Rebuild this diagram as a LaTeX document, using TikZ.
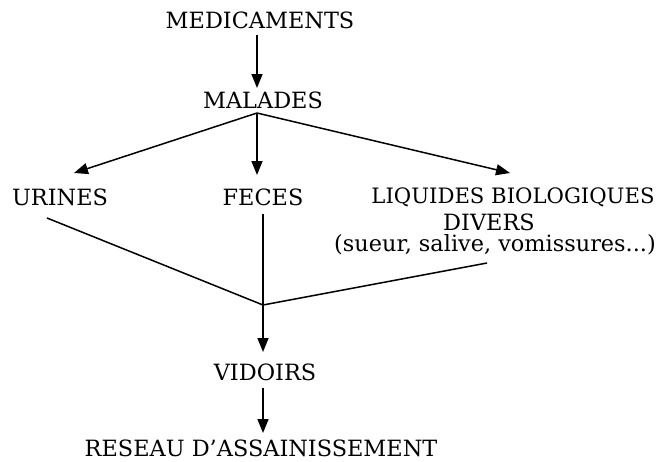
\documentclass[tikz,border=0pt]{standalone}
\usepackage{fontspec}
\setmainfont{DejaVu Serif}
\usetikzlibrary{arrows.meta}
\begin{document}
\begin{tikzpicture}[x=1pt,y=-1pt,
  lbl/.style={inner sep=0pt,font=\fontsize{22.4}{25}\selectfont},
  lblnarrow/.style={inner sep=0pt,font=\fontsize{21.2}{25}\selectfont},
  link/.style={line width=1.5pt},
  arr/.style={link,-{Triangle[length=14pt,width=11pt]}}]
\useasboundingbox (0,0) rectangle (660,461);
\node[lbl] (med) at (260,20) {MEDICAMENTS};
\node[lbl] (mal) at (263,100) {MALADES};
\node[lbl] (uri) at (60,197) {URINES};
\node[lbl] (fec) at (263,197) {FECES};
\node[lblnarrow] (liq) at (513,197) {LIQUIDES BIOLOGIQUES};
\node[lbl] (div) at (489,222) {DIVERS};
\node[lbl] (sue) at (495,245) {(sueur, salive, vomissures...)};
\node[lbl] (vid) at (265,372) {VIDOIRS};
\node[lbl] (res) at (261,448) {RESEAU D'ASSAINISSEMENT};
\coordinate (top) at (257,113);
\coordinate (j) at (263,305);
\coordinate (u1) at (47,218);
\coordinate (s1) at (487,263);
\draw[arr] (med.south -| top) ++(0,6) -- (257,88);
\draw[arr] (top) -- (74,173);
\draw[arr] (top) -- (257,175);
\draw[arr] (top) -- (510,173);
\draw[link] (u1) -- (j) -- (s1);
\draw[link] (fec.south -| j) ++(0,8) -- (j);
\draw[arr] (j) -- (263,352);
\draw[arr] (vid.south -| j) ++(0,7) -- (263,433);
\end{tikzpicture}
\end{document}
